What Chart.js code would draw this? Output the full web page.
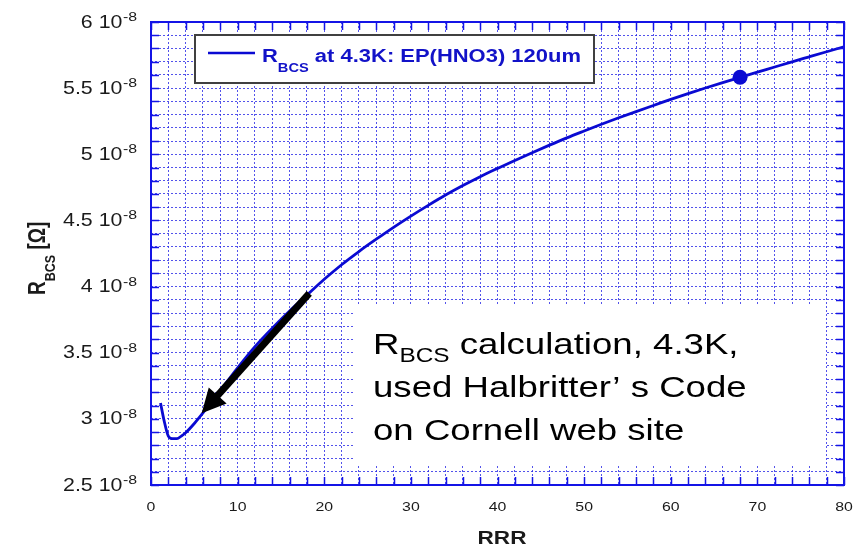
<!DOCTYPE html>
<html>
<head>
<meta charset="utf-8">
<script src="https://cdn.jsdelivr.net/npm/chart.js@4.4.0/dist/chart.umd.min.js"></script>
<style>
  html, body { margin: 0; padding: 0; background: #ffffff; }
  #wrap { width: 854px; height: 550px; position: relative; }
</style>
</head>
<body>
<div id="wrap"><canvas id="c" width="854" height="550"></canvas></div>
<script>
// Residual resistance ratio (x) and BCS surface resistance at 4.3 K, in units of 1e-8 Ohm
const rrr  = [1.1, 1.5, 2, 2.5, 3, 3.5, 4, 5, 6, 7, 8, 9, 10, 12, 14, 16, 18, 20, 22, 24, 26, 28, 30,
              32, 34, 36, 38, 40, 42, 44, 46, 48, 50, 52, 54, 56, 58, 60, 62, 64, 66, 68, 70, 72, 74, 76, 78, 80];
const rbcs = [3.12, 2.99, 2.87, 2.85, 2.85, 2.87, 2.895, 2.965, 3.045, 3.13, 3.215, 3.30, 3.385, 3.545,
              3.685, 3.815, 3.935, 4.055, 4.165, 4.265, 4.358, 4.448, 4.533, 4.614, 4.692, 4.764, 4.831,
              4.893, 4.953, 5.012, 5.069, 5.124, 5.176, 5.227, 5.276, 5.323, 5.369, 5.415, 5.459, 5.501,
              5.542, 5.582, 5.621, 5.66, 5.699, 5.737, 5.775, 5.813];

// Highlighted sample (EP(HNO3) 120um)
const markRRR  = [68];
const markRbcs = [5.582];

// Axis tick values and labels
const xTickVals = [0, 10, 20, 30, 40, 50, 60, 70, 80];
const yTickVals = [2.5, 3, 3.5, 4, 4.5, 5, 5.5, 6];
const yExponent = '-8';

// Callout arrow: from the curve near RRR 18 down to RRR 6
const arrowTail = [18.27, 3.949];
const arrowTip  = [5.85, 3.042];

const legendLabel = 'R';
const legendSub   = 'BCS';
const legendRest  = ' at 4.3K: EP(HNO3) 120um';
const noteLines   = [' calculation, 4.3K,', 'used Halbritter\u2019 s Code', 'on Cornell web site'];

const BLUE = '#0a0ad2';
const GRID = 'rgba(40,40,230,0.8)';
const FRAME = '#1414e6';
const SX = 1.22;   // horizontal text stretch
const FONT = '"Liberation Sans", Arial, sans-serif';

function txt(ctx, s, x, y, font, align, color, sx) {
  sx = sx || SX;
  ctx.save();
  ctx.font = font;
  const w = ctx.measureText(s).width * sx;
  const x0 = align === 'right' ? x - w : align === 'center' ? x - w / 2 : x;
  ctx.translate(x0, y);
  ctx.scale(sx, 1);
  ctx.textAlign = 'left';
  ctx.textBaseline = 'alphabetic';
  ctx.fillStyle = color || '#1a1a1a';
  ctx.fillText(s, 0, 0);
  ctx.restore();
  return w;
}
function measure(ctx, s, font, sx) {
  ctx.save(); ctx.font = font; const w = ctx.measureText(s).width * (sx || SX); ctx.restore(); return w;
}

const decorations = {
  id: 'decorations',
  beforeDatasetsDraw(chart) {
    // white note panel over the grid
    const ctx = chart.ctx;
    ctx.save();
    ctx.fillStyle = '#ffffff';
    ctx.fillRect(353, 304, 472, 162);
    ctx.restore();
  },
  afterDatasetsDraw(chart) {
    const ctx = chart.ctx;
    const xs = chart.scales.x, ys = chart.scales.y;
    const a = chart.chartArea;

    // callout arrow
    const tx = xs.getPixelForValue(arrowTail[0]), ty = ys.getPixelForValue(arrowTail[1]);
    const hx = xs.getPixelForValue(arrowTip[0]),  hy = ys.getPixelForValue(arrowTip[1]);
    const ang = Math.atan2(hy - ty, hx - tx);
    const headLen = 24, headHalf = 12;
    const bx = hx - headLen * Math.cos(ang), by = hy - headLen * Math.sin(ang);
    ctx.save();
    ctx.strokeStyle = '#000'; ctx.fillStyle = '#000';
    ctx.lineWidth = 7; ctx.lineCap = 'butt';
    ctx.beginPath(); ctx.moveTo(tx, ty); ctx.lineTo(bx + 2 * Math.cos(ang), by + 2 * Math.sin(ang)); ctx.stroke();
    ctx.beginPath();
    ctx.moveTo(hx, hy);
    ctx.lineTo(bx + headHalf * Math.sin(ang), by - headHalf * Math.cos(ang));
    ctx.lineTo(bx - headHalf * Math.sin(ang), by + headHalf * Math.cos(ang));
    ctx.closePath(); ctx.fill();
    ctx.restore();

    // legend box
    ctx.save();
    ctx.fillStyle = '#ffffff';
    ctx.fillRect(195, 35, 399, 48);
    ctx.strokeStyle = '#404040'; ctx.lineWidth = 2;
    ctx.strokeRect(195, 35, 399, 48);
    ctx.strokeStyle = BLUE; ctx.lineWidth = 2.5;
    ctx.beginPath(); ctx.moveTo(208, 53); ctx.lineTo(255, 53); ctx.stroke();
    ctx.restore();
    const lc = '#1212c8';
    let lx = 262;
    lx += txt(ctx, legendLabel, lx, 62, 'bold 18px ' + FONT, 'left', lc);
    lx += txt(ctx, legendSub, lx, 72, 'bold 12px ' + FONT, 'left', lc);
    txt(ctx, legendRest, lx, 62, 'bold 18px ' + FONT, 'left', lc);

    // frame and inward ticks
    ctx.save();
    ctx.strokeStyle = FRAME;
    ctx.lineWidth = 1.5;
    ctx.beginPath();
    for (let v = 0; v <= 80; v += 2) {
      const px = Math.round(xs.getPixelForValue(v)) + 0.5;
      ctx.moveTo(px, a.bottom); ctx.lineTo(px, a.bottom - 8);
      ctx.moveTo(px, a.top); ctx.lineTo(px, a.top + 8);
    }
    for (let i = 0; i <= 35; i++) {
      const v = 2.5 + i * 0.1;
      const py = Math.round(ys.getPixelForValue(v)) + 0.5;
      ctx.moveTo(a.left, py); ctx.lineTo(a.left + 8, py);
      ctx.moveTo(a.right, py); ctx.lineTo(a.right - 8, py);
    }
    ctx.stroke();
    ctx.lineWidth = 2;
    ctx.strokeRect(a.left, a.top, a.right - a.left, a.bottom - a.top);
    ctx.restore();
  },
  afterDraw(chart) {
    const ctx = chart.ctx;
    const xs = chart.scales.x, ys = chart.scales.y;

    // x tick labels
    xTickVals.forEach(v => {
      txt(ctx, String(v), xs.getPixelForValue(v), 511, '13px ' + FONT, 'center', '#1a1a1a');
    });
    // y tick labels: mantissa and power of ten
    const fBase = '17.5px ' + FONT, fExp = '13px ' + FONT;
    yTickVals.forEach(v => {
      const py = ys.getPixelForValue(v);
      const we = measure(ctx, yExponent, fExp);
      const ex = 137 - we;
      txt(ctx, yExponent, ex, py - 1, fExp, 'left', '#1a1a1a');
      txt(ctx, v + ' 10', ex - 0.5, py + 5.5, fBase, 'right', '#1a1a1a');
    });

    // x axis title
    txt(ctx, 'RRR', 502, 544, 'bold 18.5px ' + FONT, 'center', '#1a1a1a');

    // y axis title, rotated
    ctx.save();
    ctx.translate(45, 295);
    ctx.scale(SX, 1);
    ctx.rotate(-Math.PI / 2);
    ctx.fillStyle = '#1a1a1a';
    ctx.textBaseline = 'alphabetic';
    ctx.font = 'bold 19px ' + FONT;
    let ox = 0;
    ctx.fillText('R', ox, 0); ox += ctx.measureText('R').width;
    ctx.font = 'bold 12.5px ' + FONT;
    ctx.fillText('BCS', ox, 8); ox += ctx.measureText('BCS').width;
    ctx.font = 'bold 19px ' + FONT;
    ctx.fillText(' [\u03A9]', ox, 0);
    ctx.restore();

    // note text
    const nf = '30px ' + FONT;
    let nx = 373;
    nx += txt(ctx, 'R', nx, 354, nf, 'left', '#000');
    nx += txt(ctx, 'BCS', nx, 362, '20px ' + FONT, 'left', '#000');
    txt(ctx, noteLines[0], nx, 354, nf, 'left', '#000');
    txt(ctx, noteLines[1], 373, 397, nf, 'left', '#000');
    txt(ctx, noteLines[2], 373, 440, nf, 'left', '#000');
  }
};

new Chart(document.getElementById('c'), {
  type: 'scatter',
  data: {
    datasets: [
      {
        label: 'RBCS',
        data: rrr.map((x, i) => ({ x: x, y: rbcs[i] })),
        showLine: true,
        borderColor: BLUE,
        borderWidth: 2.8,
        pointRadius: 0,
        cubicInterpolationMode: 'monotone',
        fill: false
      },
      {
        label: 'sample',
        data: markRRR.map((x, i) => ({ x: x, y: markRbcs[i] })),
        pointRadius: 7.5,
        pointHoverRadius: 7.5,
        backgroundColor: BLUE,
        borderColor: BLUE,
        borderWidth: 0
      }
    ]
  },
  options: {
    responsive: false,
    animation: false,
    devicePixelRatio: 1,
    layout: { padding: { left: 151, right: 10, top: 22, bottom: 65 } },
    plugins: { legend: { display: false }, tooltip: { enabled: false }, title: { display: false } },
    scales: {
      x: {
        type: 'linear', min: 0, max: 80,
        ticks: { display: false, stepSize: 2, autoSkip: false },
        grid: { color: GRID, lineWidth: 1, drawTicks: false },
        border: { display: false, dash: [2, 2] }
      },
      y: {
        type: 'linear', min: 2.5, max: 6,
        ticks: { display: false, stepSize: 0.1, autoSkip: false },
        grid: { color: GRID, lineWidth: 1, drawTicks: false },
        border: { display: false, dash: [2, 2] }
      }
    }
  },
  plugins: [decorations]
});
</script>
</body>
</html>
